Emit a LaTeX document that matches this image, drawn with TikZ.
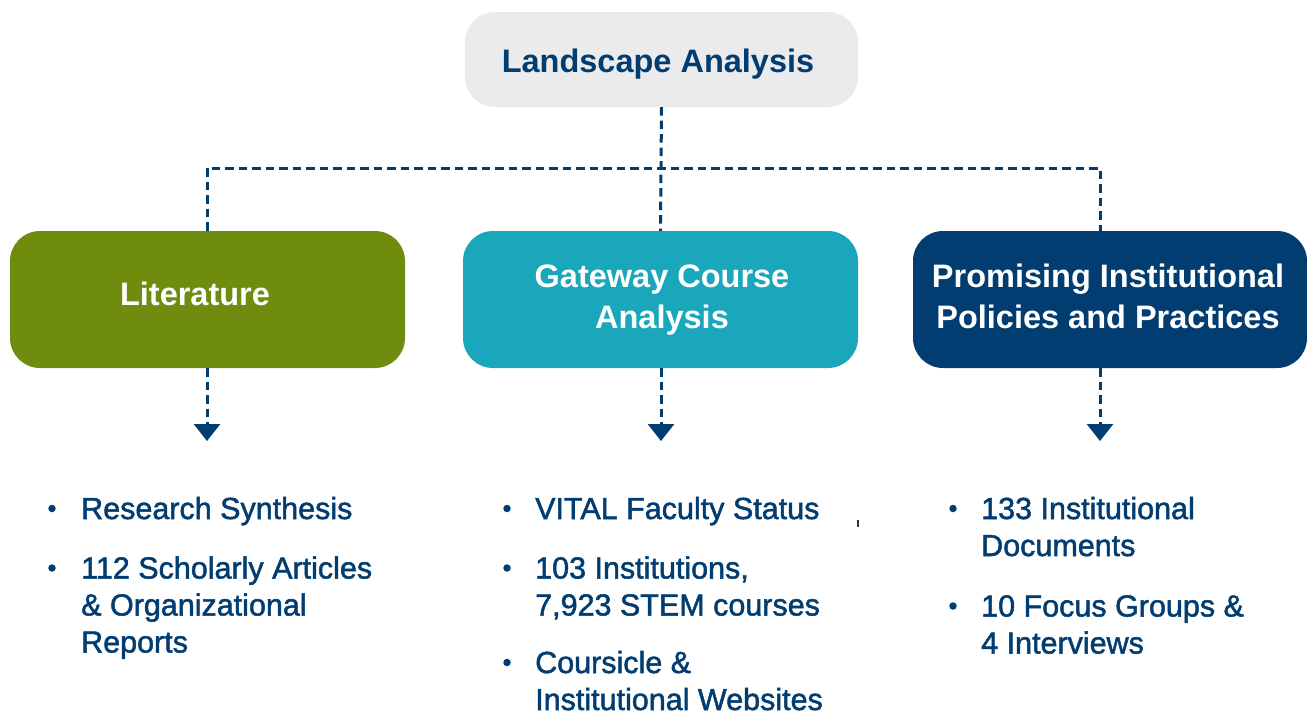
\documentclass[tikz,border=0pt]{standalone}
\usepackage{fontspec}
\setmainfont{Liberation Sans}
\newfontfamily\itemfont{Liberation Sans}[FakeBold=1.6]
\usetikzlibrary{arrows.meta}

\definecolor{navy}{HTML}{013D70}
\definecolor{olivebox}{HTML}{6F8C0E}
\definecolor{tealbox}{HTML}{1BA7BB}
\definecolor{palebox}{HTML}{EBEBEE}

\begin{document}
\begin{tikzpicture}[x=1pt,y=-1pt,
  box/.style={rounded corners=30pt, inner sep=0pt, draw=none},
  link/.style={draw=navy, line width=3pt, dash pattern=on 8.5pt off 5pt},
  tip/.style={-{Triangle[width=26pt,length=17pt]}},
  head/.style={font=\fontsize{32.5}{41}\selectfont\bfseries, anchor=base, inner sep=0pt},
  item/.style={font=\itemfont\fontsize{30.5}{37}\selectfont, text=navy, anchor=base west, inner sep=0pt},
  dot/.style={circle, fill=navy, minimum size=7.5pt, inner sep=0pt}]

\useasboundingbox (0,0) rectangle (1307,713);

% boxes
\node[box, fill=palebox, minimum width=393pt, minimum height=95pt] (top) at (661.5,59.5) {};
\node[box, fill=olivebox, minimum width=395pt, minimum height=137pt] (lit) at (207.5,299.5) {};
\node[box, fill=tealbox, minimum width=395pt, minimum height=137pt] (gca) at (660.5,299.5) {};
\node[box, fill=navy, minimum width=394pt, minimum height=137pt] (pol) at (1110,299.5) {};

% box titles
\node[head, text=navy] (ttop) at (658,72) {Landscape Analysis};
\node[head, text=white] (tlit) at (195,305) {Literature};
\node[head, text=white] (tgca) at (662,287) {\parbox[t]{390pt}{\centering Gateway Course\\Analysis}};
\node[head, text=white] (tpol) at (1108,287) {\parbox[t]{390pt}{\centering Promising Institutional\\Policies and Practices}};

% tree connectors
\coordinate (jl) at (207,168);
\coordinate (jr) at (1100,168);
\draw[link] (top.south) -- (gca.north);
\draw[link] (jl |- lit.north) -- (jl) -- (jr) -- (jr |- pol.north);

% arrows to the lists
\coordinate (al) at (207,441);
\coordinate (am) at (661,441);
\coordinate (ar) at (1100,441);
\draw[link, tip] (al |- lit.south) -- (al);
\draw[link, tip] (am |- gca.south) -- (am);
\draw[link, tip] (ar |- pol.south) -- (ar);

% left list
\node[dot] (dl1) at (52,508.5) {};
\node[item] (il1) at (81,519) {Research Synthesis};
\node[dot] (dl2) at (52,568) {};
\node[item] (il2) at (81,578.5) {\parbox[t]{330pt}{\raggedright 112 Scholarly Articles\\\& Organizational\\Reports}};

% middle list
\node[dot] (dm1) at (507,508.5) {};
\node[item] (im1) at (535,519) {VITAL Faculty Status};
\node[dot] (dm2) at (507,568) {};
\node[item] (im2) at (535,578.5) {\parbox[t]{330pt}{\raggedright 103 Institutions,\\7,923 STEM courses}};
\node[dot] (dm3) at (507,662.5) {};
\node[item] (im3) at (535,673) {\parbox[t]{330pt}{\raggedright Coursicle \&\\Institutional Websites}};

% right list
\node[dot] (dr1) at (953,508.5) {};
\node[item] (ir1) at (981,519) {\parbox[t]{320pt}{\raggedright 133 Institutional\\Documents}};
\node[dot] (dr2) at (953,606) {};
\node[item] (ir2) at (981,616.5) {\parbox[t]{320pt}{\raggedright 10 Focus Groups \&\\4 Interviews}};

% small stray tick
\fill[black!80] (856.5,520) rectangle (858.5,527);
\end{tikzpicture}
\end{document}
